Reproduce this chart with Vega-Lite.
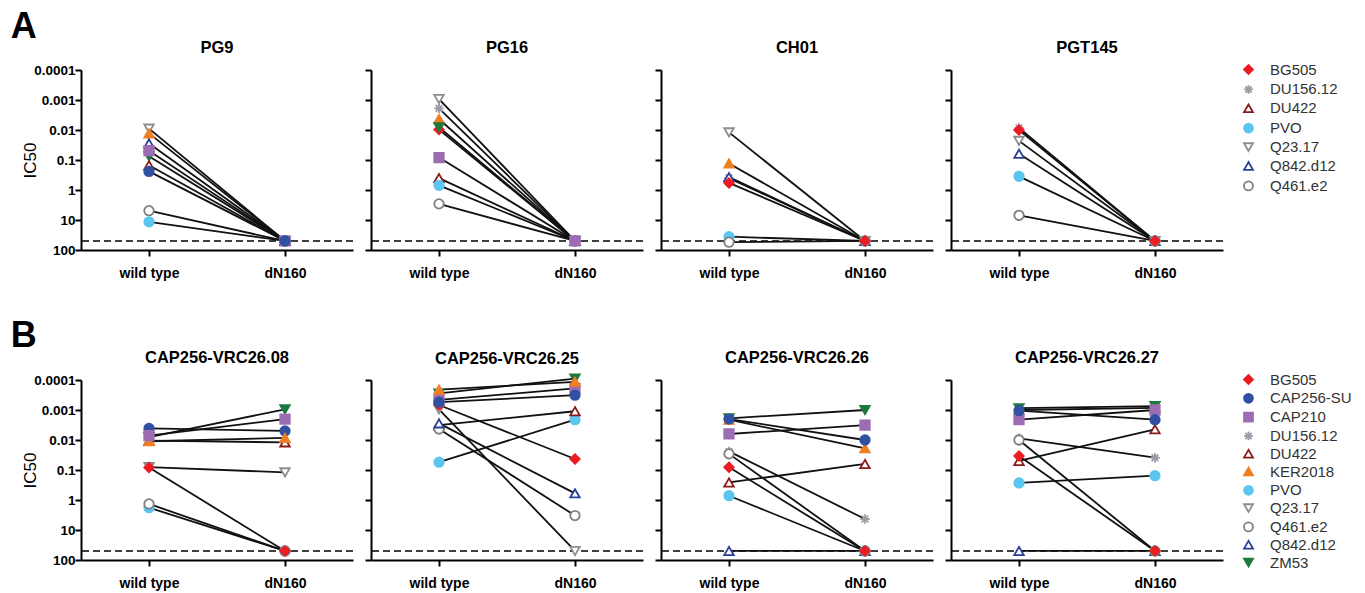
{
  "$schema": "https://vega.github.io/schema/vega-lite/v6.json",
  "padding": {"left": 10, "top": 8, "right": 10, "bottom": 2},
  "background": "white",
  "config": {
    "font": "Liberation Sans",
    "view": {"stroke": null},
    "axis": {"domainColor": "black", "domainWidth": 2, "tickColor": "black", "tickWidth": 2, "tickSize": 6, "grid": false, "labelColor": "black", "titleColor": "black", "labelFont": "Liberation Sans", "titleFont": "Liberation Sans"},
    "axisX": {"labelFontSize": 14, "labelFontWeight": "bold", "labelPadding": 10, "labelAngle": 0},
    "axisY": {"labelFontSize": 13.5, "labelFontWeight": "bold", "labelPadding": 0, "labelFlush": false, "titleFontSize": 17, "titleFontWeight": "normal", "titlePadding": -6},
    "legend": {"labelFont": "Liberation Sans", "labelFontSize": 15, "labelColor": "#333333", "symbolSize": 80, "symbolStrokeWidth": 1.8, "labelOffset": 14},
    "title": {"font": "Liberation Sans", "color": "black"},
    "point": {"filled": true, "size": 90, "strokeWidth": 1.8, "opacity": 1},
    "line": {"color": "#111111", "strokeWidth": 1.8},
    "rule": {"strokeDash": [7, 4], "strokeWidth": 1.6, "color": "black"}
  },
  "datasets": {
    "d": [
      {"ab": "PG9", "name": "Q23.17", "cond": "wild type", "ic50": 0.009}, {"ab": "PG9", "name": "Q23.17", "cond": "dN160", "ic50": 50},
      {"ab": "PG9", "name": "KER2018", "cond": "wild type", "ic50": 0.013}, {"ab": "PG9", "name": "KER2018", "cond": "dN160", "ic50": 50},
      {"ab": "PG9", "name": "Q842.d12", "cond": "wild type", "ic50": 0.028}, {"ab": "PG9", "name": "Q842.d12", "cond": "dN160", "ic50": 50},
      {"ab": "PG9", "name": "ZM53", "cond": "wild type", "ic50": 0.075}, {"ab": "PG9", "name": "ZM53", "cond": "dN160", "ic50": 50},
      {"ab": "PG9", "name": "DU422", "cond": "wild type", "ic50": 0.15}, {"ab": "PG9", "name": "DU422", "cond": "dN160", "ic50": 50},
      {"ab": "PG9", "name": "Q461.e2", "cond": "wild type", "ic50": 4.9}, {"ab": "PG9", "name": "Q461.e2", "cond": "dN160", "ic50": 50},
      {"ab": "PG9", "name": "PVO", "cond": "wild type", "ic50": 11.5}, {"ab": "PG9", "name": "PVO", "cond": "dN160", "ic50": 50},
      {"ab": "PG9", "name": "CAP210", "cond": "wild type", "ic50": 0.049}, {"ab": "PG9", "name": "CAP210", "cond": "dN160", "ic50": 50},
      {"ab": "PG9", "name": "CAP256-SU", "cond": "wild type", "ic50": 0.24}, {"ab": "PG9", "name": "CAP256-SU", "cond": "dN160", "ic50": 50},

      {"ab": "PG16", "name": "Q23.17", "cond": "wild type", "ic50": 0.00093}, {"ab": "PG16", "name": "Q23.17", "cond": "dN160", "ic50": 50},
      {"ab": "PG16", "name": "DU156.12", "cond": "wild type", "ic50": 0.0019}, {"ab": "PG16", "name": "DU156.12", "cond": "dN160", "ic50": 50},
      {"ab": "PG16", "name": "KER2018", "cond": "wild type", "ic50": 0.0043}, {"ab": "PG16", "name": "KER2018", "cond": "dN160", "ic50": 50},
      {"ab": "PG16", "name": "BG505", "cond": "wild type", "ic50": 0.0097}, {"ab": "PG16", "name": "BG505", "cond": "dN160", "ic50": 50},
      {"ab": "PG16", "name": "ZM53", "cond": "wild type", "ic50": 0.0081}, {"ab": "PG16", "name": "ZM53", "cond": "dN160", "ic50": 50},
      {"ab": "PG16", "name": "DU422", "cond": "wild type", "ic50": 0.4}, {"ab": "PG16", "name": "DU422", "cond": "dN160", "ic50": 50},
      {"ab": "PG16", "name": "PVO", "cond": "wild type", "ic50": 0.7}, {"ab": "PG16", "name": "PVO", "cond": "dN160", "ic50": 50},
      {"ab": "PG16", "name": "Q461.e2", "cond": "wild type", "ic50": 2.9}, {"ab": "PG16", "name": "Q461.e2", "cond": "dN160", "ic50": 50},
      {"ab": "PG16", "name": "CAP210", "cond": "wild type", "ic50": 0.083}, {"ab": "PG16", "name": "CAP210", "cond": "dN160", "ic50": 50},

      {"ab": "CH01", "name": "Q23.17", "cond": "wild type", "ic50": 0.012}, {"ab": "CH01", "name": "Q23.17", "cond": "dN160", "ic50": 50},
      {"ab": "CH01", "name": "KER2018", "cond": "wild type", "ic50": 0.13}, {"ab": "CH01", "name": "KER2018", "cond": "dN160", "ic50": 50},
      {"ab": "CH01", "name": "DU156.12", "cond": "wild type", "ic50": 0.4}, {"ab": "CH01", "name": "DU156.12", "cond": "dN160", "ic50": 50},
      {"ab": "CH01", "name": "Q842.d12", "cond": "wild type", "ic50": 0.37}, {"ab": "CH01", "name": "Q842.d12", "cond": "dN160", "ic50": 50},
      {"ab": "CH01", "name": "PVO", "cond": "wild type", "ic50": 36}, {"ab": "CH01", "name": "PVO", "cond": "dN160", "ic50": 50},
      {"ab": "CH01", "name": "Q461.e2", "cond": "wild type", "ic50": 55}, {"ab": "CH01", "name": "Q461.e2", "cond": "dN160", "ic50": 50},
      {"ab": "CH01", "name": "BG505", "cond": "wild type", "ic50": 0.58}, {"ab": "CH01", "name": "BG505", "cond": "dN160", "ic50": 50},

      {"ab": "PGT145", "name": "DU156.12", "cond": "wild type", "ic50": 0.0085}, {"ab": "PGT145", "name": "DU156.12", "cond": "dN160", "ic50": 50},
      {"ab": "PGT145", "name": "Q23.17", "cond": "wild type", "ic50": 0.023}, {"ab": "PGT145", "name": "Q23.17", "cond": "dN160", "ic50": 50},
      {"ab": "PGT145", "name": "Q842.d12", "cond": "wild type", "ic50": 0.062}, {"ab": "PGT145", "name": "Q842.d12", "cond": "dN160", "ic50": 50},
      {"ab": "PGT145", "name": "PVO", "cond": "wild type", "ic50": 0.35}, {"ab": "PGT145", "name": "PVO", "cond": "dN160", "ic50": 50},
      {"ab": "PGT145", "name": "Q461.e2", "cond": "wild type", "ic50": 7}, {"ab": "PGT145", "name": "Q461.e2", "cond": "dN160", "ic50": 50},
      {"ab": "PGT145", "name": "BG505", "cond": "wild type", "ic50": 0.01}, {"ab": "PGT145", "name": "BG505", "cond": "dN160", "ic50": 50},

      {"ab": "CAP256-VRC26.08", "name": "CAP256-SU", "cond": "wild type", "ic50": 0.0041}, {"ab": "CAP256-VRC26.08", "name": "CAP256-SU", "cond": "dN160", "ic50": 0.005},
      {"ab": "CAP256-VRC26.08", "name": "ZM53", "cond": "wild type", "ic50": 0.008}, {"ab": "CAP256-VRC26.08", "name": "ZM53", "cond": "dN160", "ic50": 0.00095},
      {"ab": "CAP256-VRC26.08", "name": "DU422", "cond": "wild type", "ic50": 0.0105}, {"ab": "CAP256-VRC26.08", "name": "DU422", "cond": "dN160", "ic50": 0.012},
      {"ab": "CAP256-VRC26.08", "name": "KER2018", "cond": "wild type", "ic50": 0.011}, {"ab": "CAP256-VRC26.08", "name": "KER2018", "cond": "dN160", "ic50": 0.0085},
      {"ab": "CAP256-VRC26.08", "name": "CAP210", "cond": "wild type", "ic50": 0.0072}, {"ab": "CAP256-VRC26.08", "name": "CAP210", "cond": "dN160", "ic50": 0.002},
      {"ab": "CAP256-VRC26.08", "name": "Q23.17", "cond": "wild type", "ic50": 0.08}, {"ab": "CAP256-VRC26.08", "name": "Q23.17", "cond": "dN160", "ic50": 0.12},
      {"ab": "CAP256-VRC26.08", "name": "PVO", "cond": "wild type", "ic50": 1.8}, {"ab": "CAP256-VRC26.08", "name": "PVO", "cond": "dN160", "ic50": 50},
      {"ab": "CAP256-VRC26.08", "name": "Q461.e2", "cond": "wild type", "ic50": 1.35}, {"ab": "CAP256-VRC26.08", "name": "Q461.e2", "cond": "dN160", "ic50": 50},
      {"ab": "CAP256-VRC26.08", "name": "BG505", "cond": "wild type", "ic50": 0.083}, {"ab": "CAP256-VRC26.08", "name": "BG505", "cond": "dN160", "ic50": 50},

      {"ab": "CAP256-VRC26.25", "name": "PVO", "cond": "wild type", "ic50": 0.055}, {"ab": "CAP256-VRC26.25", "name": "PVO", "cond": "dN160", "ic50": 0.0021},
      {"ab": "CAP256-VRC26.25", "name": "DU422", "cond": "wild type", "ic50": 0.0032}, {"ab": "CAP256-VRC26.25", "name": "DU422", "cond": "dN160", "ic50": 0.0011},
      {"ab": "CAP256-VRC26.25", "name": "Q23.17", "cond": "wild type", "ic50": 0.00095}, {"ab": "CAP256-VRC26.25", "name": "Q23.17", "cond": "dN160", "ic50": 50},
      {"ab": "CAP256-VRC26.25", "name": "Q461.e2", "cond": "wild type", "ic50": 0.0043}, {"ab": "CAP256-VRC26.25", "name": "Q461.e2", "cond": "dN160", "ic50": 3.3},
      {"ab": "CAP256-VRC26.25", "name": "Q842.d12", "cond": "wild type", "ic50": 0.0028}, {"ab": "CAP256-VRC26.25", "name": "Q842.d12", "cond": "dN160", "ic50": 0.6},
      {"ab": "CAP256-VRC26.25", "name": "BG505", "cond": "wild type", "ic50": 0.00068}, {"ab": "CAP256-VRC26.25", "name": "BG505", "cond": "dN160", "ic50": 0.043},
      {"ab": "CAP256-VRC26.25", "name": "ZM53", "cond": "wild type", "ic50": 0.00028}, {"ab": "CAP256-VRC26.25", "name": "ZM53", "cond": "dN160", "ic50": 0.00009},
      {"ab": "CAP256-VRC26.25", "name": "CAP210", "cond": "wild type", "ic50": 0.00046}, {"ab": "CAP256-VRC26.25", "name": "CAP210", "cond": "dN160", "ic50": 0.00019},
      {"ab": "CAP256-VRC26.25", "name": "KER2018", "cond": "wild type", "ic50": 0.00021}, {"ab": "CAP256-VRC26.25", "name": "KER2018", "cond": "dN160", "ic50": 0.000115},
      {"ab": "CAP256-VRC26.25", "name": "CAP256-SU", "cond": "wild type", "ic50": 0.00055}, {"ab": "CAP256-VRC26.25", "name": "CAP256-SU", "cond": "dN160", "ic50": 0.00032},

      {"ab": "CAP256-VRC26.26", "name": "Q842.d12", "cond": "wild type", "ic50": 50}, {"ab": "CAP256-VRC26.26", "name": "Q842.d12", "cond": "dN160", "ic50": 50},
      {"ab": "CAP256-VRC26.26", "name": "PVO", "cond": "wild type", "ic50": 0.72}, {"ab": "CAP256-VRC26.26", "name": "PVO", "cond": "dN160", "ic50": 50},
      {"ab": "CAP256-VRC26.26", "name": "DU156.12", "cond": "wild type", "ic50": 0.024}, {"ab": "CAP256-VRC26.26", "name": "DU156.12", "cond": "dN160", "ic50": 4.3},
      {"ab": "CAP256-VRC26.26", "name": "Q461.e2", "cond": "wild type", "ic50": 0.029}, {"ab": "CAP256-VRC26.26", "name": "Q461.e2", "cond": "dN160", "ic50": 50},
      {"ab": "CAP256-VRC26.26", "name": "DU422", "cond": "wild type", "ic50": 0.26}, {"ab": "CAP256-VRC26.26", "name": "DU422", "cond": "dN160", "ic50": 0.063},
      {"ab": "CAP256-VRC26.26", "name": "BG505", "cond": "wild type", "ic50": 0.081}, {"ab": "CAP256-VRC26.26", "name": "BG505", "cond": "dN160", "ic50": 50},
      {"ab": "CAP256-VRC26.26", "name": "KER2018", "cond": "wild type", "ic50": 0.0021}, {"ab": "CAP256-VRC26.26", "name": "KER2018", "cond": "dN160", "ic50": 0.019},
      {"ab": "CAP256-VRC26.26", "name": "ZM53", "cond": "wild type", "ic50": 0.0019}, {"ab": "CAP256-VRC26.26", "name": "ZM53", "cond": "dN160", "ic50": 0.001},
      {"ab": "CAP256-VRC26.26", "name": "CAP210", "cond": "wild type", "ic50": 0.0063}, {"ab": "CAP256-VRC26.26", "name": "CAP210", "cond": "dN160", "ic50": 0.0032},
      {"ab": "CAP256-VRC26.26", "name": "CAP256-SU", "cond": "wild type", "ic50": 0.002}, {"ab": "CAP256-VRC26.26", "name": "CAP256-SU", "cond": "dN160", "ic50": 0.01},

      {"ab": "CAP256-VRC26.27", "name": "Q842.d12", "cond": "wild type", "ic50": 50}, {"ab": "CAP256-VRC26.27", "name": "Q842.d12", "cond": "dN160", "ic50": 50},
      {"ab": "CAP256-VRC26.27", "name": "PVO", "cond": "wild type", "ic50": 0.27}, {"ab": "CAP256-VRC26.27", "name": "PVO", "cond": "dN160", "ic50": 0.155},
      {"ab": "CAP256-VRC26.27", "name": "DU156.12", "cond": "wild type", "ic50": 0.0088}, {"ab": "CAP256-VRC26.27", "name": "DU156.12", "cond": "dN160", "ic50": 0.039},
      {"ab": "CAP256-VRC26.27", "name": "Q461.e2", "cond": "wild type", "ic50": 0.01}, {"ab": "CAP256-VRC26.27", "name": "Q461.e2", "cond": "dN160", "ic50": 50},
      {"ab": "CAP256-VRC26.27", "name": "DU422", "cond": "wild type", "ic50": 0.05}, {"ab": "CAP256-VRC26.27", "name": "DU422", "cond": "dN160", "ic50": 0.0044},
      {"ab": "CAP256-VRC26.27", "name": "BG505", "cond": "wild type", "ic50": 0.034}, {"ab": "CAP256-VRC26.27", "name": "BG505", "cond": "dN160", "ic50": 50},
      {"ab": "CAP256-VRC26.27", "name": "KER2018", "cond": "wild type", "ic50": 0.001}, {"ab": "CAP256-VRC26.27", "name": "KER2018", "cond": "dN160", "ic50": 0.00085},
      {"ab": "CAP256-VRC26.27", "name": "ZM53", "cond": "wild type", "ic50": 0.00087}, {"ab": "CAP256-VRC26.27", "name": "ZM53", "cond": "dN160", "ic50": 0.00074},
      {"ab": "CAP256-VRC26.27", "name": "CAP210", "cond": "wild type", "ic50": 0.0021}, {"ab": "CAP256-VRC26.27", "name": "CAP210", "cond": "dN160", "ic50": 0.001},
      {"ab": "CAP256-VRC26.27", "name": "CAP256-SU", "cond": "wild type", "ic50": 0.00105}, {"ab": "CAP256-VRC26.27", "name": "CAP256-SU", "cond": "dN160", "ic50": 0.0021}
    ]
  },
  "resolve": {"scale": {"fill": "independent", "stroke": "independent", "shape": "independent"}},
  "spacing": 37,
  "vconcat": [
    {
      "title": {"text": "A", "anchor": "start", "fontSize": 36, "fontWeight": "bold", "dx": -11, "offset": -6},
      "bounds": "flush",
      "spacing": 18,
      "hconcat": [
        {
          "title": {"text": "PG9", "fontSize": 16.5, "fontWeight": "bold", "frame": "group", "offset": 7},
          "width": 272, "height": 180,
          "data": {"name": "d"},
          "encoding": {"y": {"field": "ic50", "type": "quantitative", "scale": {"type": "log", "domain": [0.0001, 100], "reverse": true, "nice": false}, "axis": {"values": [0.0001, 0.001, 0.01, 0.1, 1, 10, 100], "format": "~g", "title": "IC50"}}},
          "layer": [
            {"data": {"values": [{"ic50": 50}]}, "mark": "rule"},
            {"transform": [{"filter": {"field": "ab", "equal": "PG9"}}], "mark": "line", "encoding": {"x": {"field": "cond", "type": "nominal", "sort": ["wild type", "dN160"], "axis": {"title": null}}, "detail": {"field": "name"}}},
            {"transform": [{"filter": {"field": "ab", "equal": "PG9"}}], "mark": "point", "encoding": {
              "x": {"field": "cond", "type": "nominal", "sort": ["wild type", "dN160"]},
              "fill": {"field": "name", "type": "nominal", "scale": {"domain": ["BG505", "CAP256-SU", "CAP210", "DU156.12", "DU422", "KER2018", "PVO", "Q23.17", "Q461.e2", "Q842.d12", "ZM53"], "range": ["#ec1c24", "#3150a2", "#9d6db3", "#9b9ba5", "#ffffff", "#f07e22", "#5cc5f0", "#ffffff", "#ffffff", "#ffffff", "#1d7a3e"]}, "legend": {"title": null, "values": ["BG505", "DU156.12", "DU422", "PVO", "Q23.17", "Q842.d12", "Q461.e2"], "rowPadding": 2.9, "padding": -8, "offset": 25}},
              "stroke": {"field": "name", "type": "nominal", "scale": {"domain": ["BG505", "CAP256-SU", "CAP210", "DU156.12", "DU422", "KER2018", "PVO", "Q23.17", "Q461.e2", "Q842.d12", "ZM53"], "range": ["#ec1c24", "#3150a2", "#9d6db3", "#9b9ba5", "#8b1a1a", "#f07e22", "#5cc5f0", "#8d8d8d", "#808080", "#2a3f98", "#1d7a3e"]}, "legend": {"title": null, "values": ["BG505", "DU156.12", "DU422", "PVO", "Q23.17", "Q842.d12", "Q461.e2"], "rowPadding": 2.9, "padding": -8, "offset": 25}},
              "shape": {"field": "name", "type": "nominal", "scale": {"domain": ["BG505", "CAP256-SU", "CAP210", "DU156.12", "DU422", "KER2018", "PVO", "Q23.17", "Q461.e2", "Q842.d12", "ZM53"], "range": ["diamond", "circle", "square", "M-1,0L1,0M0,-1L0,1M-0.7,-0.7L0.7,0.7M-0.7,0.7L0.7,-0.7", "triangle-up", "triangle-up", "circle", "triangle-down", "circle", "triangle-up", "triangle-down"]}, "legend": {"title": null, "values": ["BG505", "DU156.12", "DU422", "PVO", "Q23.17", "Q842.d12", "Q461.e2"], "rowPadding": 2.9, "padding": -8, "offset": 25}}
            }}
          ]
        },
        {
          "title": {"text": "PG16", "fontSize": 16.5, "fontWeight": "bold", "frame": "group", "offset": 13},
          "width": 272, "height": 180,
          "data": {"name": "d"},
          "encoding": {"y": {"field": "ic50", "type": "quantitative", "scale": {"type": "log", "domain": [0.0001, 100], "reverse": true, "nice": false}, "axis": {"values": [0.0001, 0.001, 0.01, 0.1, 1, 10, 100], "labels": false, "title": null}}},
          "layer": [
            {"data": {"values": [{"ic50": 50}]}, "mark": "rule"},
            {"transform": [{"filter": {"field": "ab", "equal": "PG16"}}], "mark": "line", "encoding": {"x": {"field": "cond", "type": "nominal", "sort": ["wild type", "dN160"], "axis": {"title": null}}, "detail": {"field": "name"}}},
            {"transform": [{"filter": {"field": "ab", "equal": "PG16"}}], "mark": "point", "encoding": {
              "x": {"field": "cond", "type": "nominal", "sort": ["wild type", "dN160"]},
              "fill": {"field": "name", "type": "nominal", "scale": {"domain": ["BG505", "CAP256-SU", "CAP210", "DU156.12", "DU422", "KER2018", "PVO", "Q23.17", "Q461.e2", "Q842.d12", "ZM53"], "range": ["#ec1c24", "#3150a2", "#9d6db3", "#9b9ba5", "#ffffff", "#f07e22", "#5cc5f0", "#ffffff", "#ffffff", "#ffffff", "#1d7a3e"]}, "legend": {"title": null, "values": ["BG505", "DU156.12", "DU422", "PVO", "Q23.17", "Q842.d12", "Q461.e2"], "rowPadding": 2.9, "padding": -8, "offset": 25}},
              "stroke": {"field": "name", "type": "nominal", "scale": {"domain": ["BG505", "CAP256-SU", "CAP210", "DU156.12", "DU422", "KER2018", "PVO", "Q23.17", "Q461.e2", "Q842.d12", "ZM53"], "range": ["#ec1c24", "#3150a2", "#9d6db3", "#9b9ba5", "#8b1a1a", "#f07e22", "#5cc5f0", "#8d8d8d", "#808080", "#2a3f98", "#1d7a3e"]}, "legend": {"title": null, "values": ["BG505", "DU156.12", "DU422", "PVO", "Q23.17", "Q842.d12", "Q461.e2"], "rowPadding": 2.9, "padding": -8, "offset": 25}},
              "shape": {"field": "name", "type": "nominal", "scale": {"domain": ["BG505", "CAP256-SU", "CAP210", "DU156.12", "DU422", "KER2018", "PVO", "Q23.17", "Q461.e2", "Q842.d12", "ZM53"], "range": ["diamond", "circle", "square", "M-1,0L1,0M0,-1L0,1M-0.7,-0.7L0.7,0.7M-0.7,0.7L0.7,-0.7", "triangle-up", "triangle-up", "circle", "triangle-down", "circle", "triangle-up", "triangle-down"]}, "legend": {"title": null, "values": ["BG505", "DU156.12", "DU422", "PVO", "Q23.17", "Q842.d12", "Q461.e2"], "rowPadding": 2.9, "padding": -8, "offset": 25}}
            }}
          ]
        },
        {
          "title": {"text": "CH01", "fontSize": 16.5, "fontWeight": "bold", "frame": "group", "offset": 13},
          "width": 272, "height": 180,
          "data": {"name": "d"},
          "encoding": {"y": {"field": "ic50", "type": "quantitative", "scale": {"type": "log", "domain": [0.0001, 100], "reverse": true, "nice": false}, "axis": {"values": [0.0001, 0.001, 0.01, 0.1, 1, 10, 100], "labels": false, "title": null}}},
          "layer": [
            {"data": {"values": [{"ic50": 50}]}, "mark": "rule"},
            {"transform": [{"filter": {"field": "ab", "equal": "CH01"}}], "mark": "line", "encoding": {"x": {"field": "cond", "type": "nominal", "sort": ["wild type", "dN160"], "axis": {"title": null}}, "detail": {"field": "name"}}},
            {"transform": [{"filter": {"field": "ab", "equal": "CH01"}}], "mark": "point", "encoding": {
              "x": {"field": "cond", "type": "nominal", "sort": ["wild type", "dN160"]},
              "fill": {"field": "name", "type": "nominal", "scale": {"domain": ["BG505", "CAP256-SU", "CAP210", "DU156.12", "DU422", "KER2018", "PVO", "Q23.17", "Q461.e2", "Q842.d12", "ZM53"], "range": ["#ec1c24", "#3150a2", "#9d6db3", "#9b9ba5", "#ffffff", "#f07e22", "#5cc5f0", "#ffffff", "#ffffff", "#ffffff", "#1d7a3e"]}, "legend": {"title": null, "values": ["BG505", "DU156.12", "DU422", "PVO", "Q23.17", "Q842.d12", "Q461.e2"], "rowPadding": 2.9, "padding": -8, "offset": 25}},
              "stroke": {"field": "name", "type": "nominal", "scale": {"domain": ["BG505", "CAP256-SU", "CAP210", "DU156.12", "DU422", "KER2018", "PVO", "Q23.17", "Q461.e2", "Q842.d12", "ZM53"], "range": ["#ec1c24", "#3150a2", "#9d6db3", "#9b9ba5", "#8b1a1a", "#f07e22", "#5cc5f0", "#8d8d8d", "#808080", "#2a3f98", "#1d7a3e"]}, "legend": {"title": null, "values": ["BG505", "DU156.12", "DU422", "PVO", "Q23.17", "Q842.d12", "Q461.e2"], "rowPadding": 2.9, "padding": -8, "offset": 25}},
              "shape": {"field": "name", "type": "nominal", "scale": {"domain": ["BG505", "CAP256-SU", "CAP210", "DU156.12", "DU422", "KER2018", "PVO", "Q23.17", "Q461.e2", "Q842.d12", "ZM53"], "range": ["diamond", "circle", "square", "M-1,0L1,0M0,-1L0,1M-0.7,-0.7L0.7,0.7M-0.7,0.7L0.7,-0.7", "triangle-up", "triangle-up", "circle", "triangle-down", "circle", "triangle-up", "triangle-down"]}, "legend": {"title": null, "values": ["BG505", "DU156.12", "DU422", "PVO", "Q23.17", "Q842.d12", "Q461.e2"], "rowPadding": 2.9, "padding": -8, "offset": 25}}
            }}
          ]
        },
        {
          "title": {"text": "PGT145", "fontSize": 16.5, "fontWeight": "bold", "frame": "group", "offset": 13},
          "width": 272, "height": 180,
          "data": {"name": "d"},
          "encoding": {"y": {"field": "ic50", "type": "quantitative", "scale": {"type": "log", "domain": [0.0001, 100], "reverse": true, "nice": false}, "axis": {"values": [0.0001, 0.001, 0.01, 0.1, 1, 10, 100], "labels": false, "title": null}}},
          "layer": [
            {"data": {"values": [{"ic50": 50}]}, "mark": "rule"},
            {"transform": [{"filter": {"field": "ab", "equal": "PGT145"}}], "mark": "line", "encoding": {"x": {"field": "cond", "type": "nominal", "sort": ["wild type", "dN160"], "axis": {"title": null}}, "detail": {"field": "name"}}},
            {"transform": [{"filter": {"field": "ab", "equal": "PGT145"}}], "mark": "point", "encoding": {
              "x": {"field": "cond", "type": "nominal", "sort": ["wild type", "dN160"]},
              "fill": {"field": "name", "type": "nominal", "scale": {"domain": ["BG505", "CAP256-SU", "CAP210", "DU156.12", "DU422", "KER2018", "PVO", "Q23.17", "Q461.e2", "Q842.d12", "ZM53"], "range": ["#ec1c24", "#3150a2", "#9d6db3", "#9b9ba5", "#ffffff", "#f07e22", "#5cc5f0", "#ffffff", "#ffffff", "#ffffff", "#1d7a3e"]}, "legend": {"title": null, "values": ["BG505", "DU156.12", "DU422", "PVO", "Q23.17", "Q842.d12", "Q461.e2"], "rowPadding": 2.9, "padding": -8, "offset": 25}},
              "stroke": {"field": "name", "type": "nominal", "scale": {"domain": ["BG505", "CAP256-SU", "CAP210", "DU156.12", "DU422", "KER2018", "PVO", "Q23.17", "Q461.e2", "Q842.d12", "ZM53"], "range": ["#ec1c24", "#3150a2", "#9d6db3", "#9b9ba5", "#8b1a1a", "#f07e22", "#5cc5f0", "#8d8d8d", "#808080", "#2a3f98", "#1d7a3e"]}, "legend": {"title": null, "values": ["BG505", "DU156.12", "DU422", "PVO", "Q23.17", "Q842.d12", "Q461.e2"], "rowPadding": 2.9, "padding": -8, "offset": 25}},
              "shape": {"field": "name", "type": "nominal", "scale": {"domain": ["BG505", "CAP256-SU", "CAP210", "DU156.12", "DU422", "KER2018", "PVO", "Q23.17", "Q461.e2", "Q842.d12", "ZM53"], "range": ["diamond", "circle", "square", "M-1,0L1,0M0,-1L0,1M-0.7,-0.7L0.7,0.7M-0.7,0.7L0.7,-0.7", "triangle-up", "triangle-up", "circle", "triangle-down", "circle", "triangle-up", "triangle-down"]}, "legend": {"title": null, "values": ["BG505", "DU156.12", "DU422", "PVO", "Q23.17", "Q842.d12", "Q461.e2"], "rowPadding": 2.9, "padding": -8, "offset": 25}}
            }}
          ]
        }
      ]
    },
    {
      "title": {"text": "B", "anchor": "start", "fontSize": 36, "fontWeight": "bold", "dx": -11, "offset": -5},
      "bounds": "flush",
      "spacing": 18,
      "hconcat": [
        {
          "title": {"text": "CAP256-VRC26.08", "fontSize": 16.5, "fontWeight": "bold", "frame": "group", "offset": 7},
          "width": 272, "height": 180,
          "data": {"name": "d"},
          "encoding": {"y": {"field": "ic50", "type": "quantitative", "scale": {"type": "log", "domain": [0.0001, 100], "reverse": true, "nice": false}, "axis": {"values": [0.0001, 0.001, 0.01, 0.1, 1, 10, 100], "format": "~g", "title": "IC50"}}},
          "layer": [
            {"data": {"values": [{"ic50": 50}]}, "mark": "rule"},
            {"transform": [{"filter": {"field": "ab", "equal": "CAP256-VRC26.08"}}], "mark": "line", "encoding": {"x": {"field": "cond", "type": "nominal", "sort": ["wild type", "dN160"], "axis": {"title": null}}, "detail": {"field": "name"}}},
            {"transform": [{"filter": {"field": "ab", "equal": "CAP256-VRC26.08"}}], "mark": "point", "encoding": {
              "x": {"field": "cond", "type": "nominal", "sort": ["wild type", "dN160"]},
              "fill": {"field": "name", "type": "nominal", "scale": {"domain": ["BG505", "CAP256-SU", "CAP210", "DU156.12", "DU422", "KER2018", "PVO", "Q23.17", "Q461.e2", "Q842.d12", "ZM53"], "range": ["#ec1c24", "#3150a2", "#9d6db3", "#9b9ba5", "#ffffff", "#f07e22", "#5cc5f0", "#ffffff", "#ffffff", "#ffffff", "#1d7a3e"]}, "legend": {"title": null, "rowPadding": 1.8, "padding": -8, "offset": 25}},
              "stroke": {"field": "name", "type": "nominal", "scale": {"domain": ["BG505", "CAP256-SU", "CAP210", "DU156.12", "DU422", "KER2018", "PVO", "Q23.17", "Q461.e2", "Q842.d12", "ZM53"], "range": ["#ec1c24", "#3150a2", "#9d6db3", "#9b9ba5", "#8b1a1a", "#f07e22", "#5cc5f0", "#8d8d8d", "#808080", "#2a3f98", "#1d7a3e"]}, "legend": {"title": null, "rowPadding": 1.8, "padding": -8, "offset": 25}},
              "shape": {"field": "name", "type": "nominal", "scale": {"domain": ["BG505", "CAP256-SU", "CAP210", "DU156.12", "DU422", "KER2018", "PVO", "Q23.17", "Q461.e2", "Q842.d12", "ZM53"], "range": ["diamond", "circle", "square", "M-1,0L1,0M0,-1L0,1M-0.7,-0.7L0.7,0.7M-0.7,0.7L0.7,-0.7", "triangle-up", "triangle-up", "circle", "triangle-down", "circle", "triangle-up", "triangle-down"]}, "legend": {"title": null, "rowPadding": 1.8, "padding": -8, "offset": 25}}
            }}
          ]
        },
        {
          "title": {"text": "CAP256-VRC26.25", "fontSize": 16.5, "fontWeight": "bold", "frame": "group", "offset": 3},
          "width": 272, "height": 180,
          "data": {"name": "d"},
          "encoding": {"y": {"field": "ic50", "type": "quantitative", "scale": {"type": "log", "domain": [0.0001, 100], "reverse": true, "nice": false}, "axis": {"values": [0.0001, 0.001, 0.01, 0.1, 1, 10, 100], "labels": false, "title": null}}},
          "layer": [
            {"data": {"values": [{"ic50": 50}]}, "mark": "rule"},
            {"transform": [{"filter": {"field": "ab", "equal": "CAP256-VRC26.25"}}], "mark": "line", "encoding": {"x": {"field": "cond", "type": "nominal", "sort": ["wild type", "dN160"], "axis": {"title": null}}, "detail": {"field": "name"}}},
            {"transform": [{"filter": {"field": "ab", "equal": "CAP256-VRC26.25"}}], "mark": "point", "encoding": {
              "x": {"field": "cond", "type": "nominal", "sort": ["wild type", "dN160"]},
              "fill": {"field": "name", "type": "nominal", "scale": {"domain": ["BG505", "CAP256-SU", "CAP210", "DU156.12", "DU422", "KER2018", "PVO", "Q23.17", "Q461.e2", "Q842.d12", "ZM53"], "range": ["#ec1c24", "#3150a2", "#9d6db3", "#9b9ba5", "#ffffff", "#f07e22", "#5cc5f0", "#ffffff", "#ffffff", "#ffffff", "#1d7a3e"]}, "legend": {"title": null, "rowPadding": 1.8, "padding": -8, "offset": 25}},
              "stroke": {"field": "name", "type": "nominal", "scale": {"domain": ["BG505", "CAP256-SU", "CAP210", "DU156.12", "DU422", "KER2018", "PVO", "Q23.17", "Q461.e2", "Q842.d12", "ZM53"], "range": ["#ec1c24", "#3150a2", "#9d6db3", "#9b9ba5", "#8b1a1a", "#f07e22", "#5cc5f0", "#8d8d8d", "#808080", "#2a3f98", "#1d7a3e"]}, "legend": {"title": null, "rowPadding": 1.8, "padding": -8, "offset": 25}},
              "shape": {"field": "name", "type": "nominal", "scale": {"domain": ["BG505", "CAP256-SU", "CAP210", "DU156.12", "DU422", "KER2018", "PVO", "Q23.17", "Q461.e2", "Q842.d12", "ZM53"], "range": ["diamond", "circle", "square", "M-1,0L1,0M0,-1L0,1M-0.7,-0.7L0.7,0.7M-0.7,0.7L0.7,-0.7", "triangle-up", "triangle-up", "circle", "triangle-down", "circle", "triangle-up", "triangle-down"]}, "legend": {"title": null, "rowPadding": 1.8, "padding": -8, "offset": 25}}
            }}
          ]
        },
        {
          "title": {"text": "CAP256-VRC26.26", "fontSize": 16.5, "fontWeight": "bold", "frame": "group", "offset": 13},
          "width": 272, "height": 180,
          "data": {"name": "d"},
          "encoding": {"y": {"field": "ic50", "type": "quantitative", "scale": {"type": "log", "domain": [0.0001, 100], "reverse": true, "nice": false}, "axis": {"values": [0.0001, 0.001, 0.01, 0.1, 1, 10, 100], "labels": false, "title": null}}},
          "layer": [
            {"data": {"values": [{"ic50": 50}]}, "mark": "rule"},
            {"transform": [{"filter": {"field": "ab", "equal": "CAP256-VRC26.26"}}], "mark": "line", "encoding": {"x": {"field": "cond", "type": "nominal", "sort": ["wild type", "dN160"], "axis": {"title": null}}, "detail": {"field": "name"}}},
            {"transform": [{"filter": {"field": "ab", "equal": "CAP256-VRC26.26"}}], "mark": "point", "encoding": {
              "x": {"field": "cond", "type": "nominal", "sort": ["wild type", "dN160"]},
              "fill": {"field": "name", "type": "nominal", "scale": {"domain": ["BG505", "CAP256-SU", "CAP210", "DU156.12", "DU422", "KER2018", "PVO", "Q23.17", "Q461.e2", "Q842.d12", "ZM53"], "range": ["#ec1c24", "#3150a2", "#9d6db3", "#9b9ba5", "#ffffff", "#f07e22", "#5cc5f0", "#ffffff", "#ffffff", "#ffffff", "#1d7a3e"]}, "legend": {"title": null, "rowPadding": 1.8, "padding": -8, "offset": 25}},
              "stroke": {"field": "name", "type": "nominal", "scale": {"domain": ["BG505", "CAP256-SU", "CAP210", "DU156.12", "DU422", "KER2018", "PVO", "Q23.17", "Q461.e2", "Q842.d12", "ZM53"], "range": ["#ec1c24", "#3150a2", "#9d6db3", "#9b9ba5", "#8b1a1a", "#f07e22", "#5cc5f0", "#8d8d8d", "#808080", "#2a3f98", "#1d7a3e"]}, "legend": {"title": null, "rowPadding": 1.8, "padding": -8, "offset": 25}},
              "shape": {"field": "name", "type": "nominal", "scale": {"domain": ["BG505", "CAP256-SU", "CAP210", "DU156.12", "DU422", "KER2018", "PVO", "Q23.17", "Q461.e2", "Q842.d12", "ZM53"], "range": ["diamond", "circle", "square", "M-1,0L1,0M0,-1L0,1M-0.7,-0.7L0.7,0.7M-0.7,0.7L0.7,-0.7", "triangle-up", "triangle-up", "circle", "triangle-down", "circle", "triangle-up", "triangle-down"]}, "legend": {"title": null, "rowPadding": 1.8, "padding": -8, "offset": 25}}
            }}
          ]
        },
        {
          "title": {"text": "CAP256-VRC26.27", "fontSize": 16.5, "fontWeight": "bold", "frame": "group", "offset": 13},
          "width": 272, "height": 180,
          "data": {"name": "d"},
          "encoding": {"y": {"field": "ic50", "type": "quantitative", "scale": {"type": "log", "domain": [0.0001, 100], "reverse": true, "nice": false}, "axis": {"values": [0.0001, 0.001, 0.01, 0.1, 1, 10, 100], "labels": false, "title": null}}},
          "layer": [
            {"data": {"values": [{"ic50": 50}]}, "mark": "rule"},
            {"transform": [{"filter": {"field": "ab", "equal": "CAP256-VRC26.27"}}], "mark": "line", "encoding": {"x": {"field": "cond", "type": "nominal", "sort": ["wild type", "dN160"], "axis": {"title": null}}, "detail": {"field": "name"}}},
            {"transform": [{"filter": {"field": "ab", "equal": "CAP256-VRC26.27"}}], "mark": "point", "encoding": {
              "x": {"field": "cond", "type": "nominal", "sort": ["wild type", "dN160"]},
              "fill": {"field": "name", "type": "nominal", "scale": {"domain": ["BG505", "CAP256-SU", "CAP210", "DU156.12", "DU422", "KER2018", "PVO", "Q23.17", "Q461.e2", "Q842.d12", "ZM53"], "range": ["#ec1c24", "#3150a2", "#9d6db3", "#9b9ba5", "#ffffff", "#f07e22", "#5cc5f0", "#ffffff", "#ffffff", "#ffffff", "#1d7a3e"]}, "legend": {"title": null, "rowPadding": 1.8, "padding": -8, "offset": 25}},
              "stroke": {"field": "name", "type": "nominal", "scale": {"domain": ["BG505", "CAP256-SU", "CAP210", "DU156.12", "DU422", "KER2018", "PVO", "Q23.17", "Q461.e2", "Q842.d12", "ZM53"], "range": ["#ec1c24", "#3150a2", "#9d6db3", "#9b9ba5", "#8b1a1a", "#f07e22", "#5cc5f0", "#8d8d8d", "#808080", "#2a3f98", "#1d7a3e"]}, "legend": {"title": null, "rowPadding": 1.8, "padding": -8, "offset": 25}},
              "shape": {"field": "name", "type": "nominal", "scale": {"domain": ["BG505", "CAP256-SU", "CAP210", "DU156.12", "DU422", "KER2018", "PVO", "Q23.17", "Q461.e2", "Q842.d12", "ZM53"], "range": ["diamond", "circle", "square", "M-1,0L1,0M0,-1L0,1M-0.7,-0.7L0.7,0.7M-0.7,0.7L0.7,-0.7", "triangle-up", "triangle-up", "circle", "triangle-down", "circle", "triangle-up", "triangle-down"]}, "legend": {"title": null, "rowPadding": 1.8, "padding": -8, "offset": 25}}
            }}
          ]
        }
      ]
    }
  ]
}
